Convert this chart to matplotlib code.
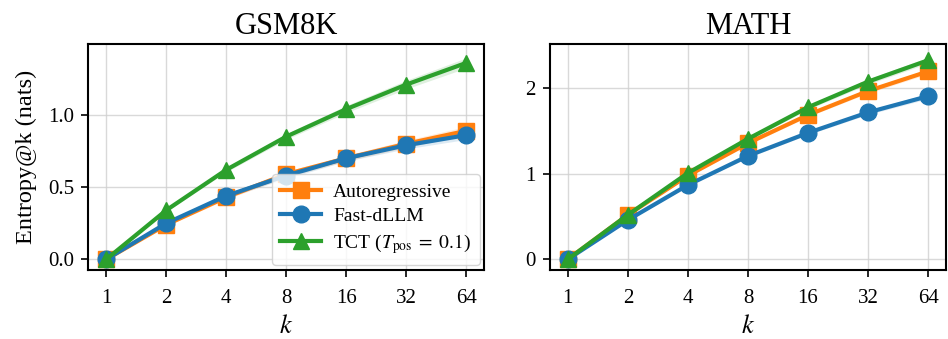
import numpy as np
import matplotlib
matplotlib.use("Agg")
import matplotlib.pyplot as plt

plt.rcParams['font.family'] = ['Liberation Serif', 'DejaVu Serif']
plt.rcParams['mathtext.fontset'] = 'stix'

k = [1, 2, 4, 8, 16, 32, 64]

# GSM8K
gsm_ar = [0.0, 0.24, 0.43, 0.59, 0.70, 0.80, 0.89]
gsm_fd = [0.0, 0.25, 0.44, 0.58, 0.70, 0.79, 0.86]
gsm_tct = [0.0, 0.34, 0.62, 0.85, 1.04, 1.21, 1.36]
gsm_ar_sd = [0.0, 0.01, 0.015, 0.02, 0.02, 0.025, 0.03]
gsm_fd_sd = [0.0, 0.01, 0.015, 0.02, 0.02, 0.025, 0.03]
gsm_tct_sd = [0.0, 0.01, 0.015, 0.02, 0.025, 0.03, 0.035]

# MATH
math_ar = [0.0, 0.52, 0.98, 1.36, 1.69, 1.97, 2.20]
math_fd = [0.0, 0.46, 0.87, 1.21, 1.48, 1.72, 1.91]
math_tct = [0.0, 0.52, 1.01, 1.41, 1.78, 2.08, 2.33]
math_ar_sd = [0.0, 0.01, 0.015, 0.02, 0.02, 0.025, 0.03]
math_fd_sd = [0.0, 0.01, 0.015, 0.02, 0.02, 0.025, 0.03]
math_tct_sd = [0.0, 0.01, 0.015, 0.02, 0.025, 0.03, 0.035]

labels = ['Autoregressive', 'Fast-dLLM', r'TCT ($T_{\mathrm{pos}}\;=\;0.1$)']
colors = ['tab:orange', 'tab:blue', 'tab:green']
markers = ['s', 'o', '^']

fig, axes = plt.subplots(1, 2, figsize=(9.48, 3.39), dpi=100)
fig.subplots_adjust(left=0.093, right=0.998, top=0.87, bottom=0.205, wspace=0.165)

panels = [
    ('GSM8K', [gsm_ar, gsm_fd, gsm_tct], [gsm_ar_sd, gsm_fd_sd, gsm_tct_sd], (-0.07, 1.49), [0.0, 0.5, 1.0]),
    ('MATH', [math_ar, math_fd, math_tct], [math_ar_sd, math_fd_sd, math_tct_sd], (-0.12, 2.52), [0, 1, 2]),
]

for ax, (title, series, sds, ylim, yt) in zip(axes, panels):
    for y, sd, lab, c, m in zip(series, sds, labels, colors, markers):
        y = np.array(y)
        sd = np.array(sd)
        ax.fill_between(k, y - sd, y + sd, color=c, alpha=0.15, lw=0)
        ax.plot(k, y, marker=m, color=c, lw=3, ms=12, label=lab)
    ax.set_xscale('log', base=2)
    ax.set_xlim(2 ** -0.3, 2 ** 6.3)
    ax.set_xticks(k)
    ax.set_xticklabels([str(v) for v in k])
    ax.minorticks_off()
    ax.set_ylim(*ylim)
    ax.set_yticks(yt)
    ax.grid(True, color='#d0d0d0', lw=1, alpha=0.8)
    ax.set_axisbelow(True)
    ax.set_title(title, fontsize=22, pad=7)
    ax.set_xlabel('$k$', fontsize=19, labelpad=5)
    ax.tick_params(axis='x', labelsize=15, width=1.2, length=5, pad=9)
    ax.tick_params(axis='y', labelsize=15, width=1.2, length=5, pad=5)
    for s in ax.spines.values():
        s.set_linewidth(1.5)
    if title == 'GSM8K':
        ax.yaxis.set_major_formatter(matplotlib.ticker.FormatStrFormatter('%.1f'))
        ax.set_ylabel('Entropy@k (nats)', fontsize=17.5, labelpad=8)
        ax.legend(loc='lower right', fontsize=14, handlelength=2.1,
                  borderaxespad=0.25, framealpha=0.8, labelspacing=0.35,
                  handletextpad=0.6, borderpad=0.45)

fig.savefig('out.png', dpi=100)
